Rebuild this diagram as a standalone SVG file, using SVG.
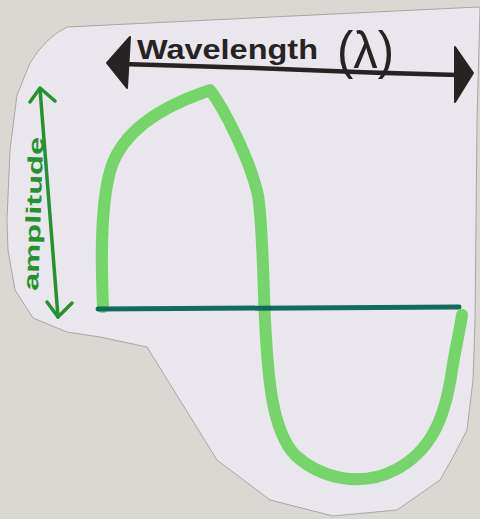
<svg xmlns="http://www.w3.org/2000/svg" width="480" height="519" viewBox="0 0 480 519">
<style>
.ink{stroke:#262322;fill:none;stroke-width:4.5;stroke-linecap:round;stroke-linejoin:round}
.head{fill:#262322;stroke:#262322;stroke-width:2;stroke-linejoin:round}
.amp{stroke:#23922f;fill:none;stroke-width:3.5;stroke-linecap:round;stroke-linejoin:round}
.wave{stroke:#6fd464;fill:none;stroke-width:12;stroke-linecap:round;stroke-linejoin:round;opacity:0.95}
.axis{stroke:#0f6b5c;fill:none;stroke-width:5;stroke-linecap:round}
.lbl{font-family:"Liberation Sans","DejaVu Sans",sans-serif;font-weight:bold}
</style>
<rect width="480" height="519" fill="#dbd8d4"/>
<g id="paper">
<path d="M67,27 L478,7 L480,8 L477,120 L475,323 L473,380 L467,430 L453,457 L440,480 L397,510 L333,516 L270,500 L217,460 L147,347 L100,337 L67,332 L33,318 L15,290 L8,250 L7,220 L10,150 L17,95 L30,63 Q45,38 67,27 Z" fill="#e9e7ed" stroke="#9a9794" stroke-width="0.8"/>
</g>
<g id="wave">
<path class="wave" d="M103,307 C101,260 100,200 112,165 C125,130 160,108 202,93 L210,90 C225,110 250,160 258,195 C263,230 263,280 265,320 C268,380 272,430 295,455 C320,478 360,488 395,470 C430,452 445,420 452,370 C456,345 460,330 462,315"/>
</g>
<g id="axis">
<path class="axis" d="M98,309 L459,307"/>
</g>
<g id="wavelength-arrow">
<path class="ink" d="M122,64 Q200,66 280,69 Q370,73 458,75"/>
<path class="head" d="M107,63 L130,37 L127,88 Z"/>
<path class="head" d="M473,73 L455,47 L455,102 Z"/>
<text class="lbl" x="137" y="59" font-size="27" fill="#262322" textLength="181" lengthAdjust="spacingAndGlyphs">Wavelength</text>
<text x="337" y="68" font-family="'Liberation Sans','DejaVu Sans',sans-serif" font-size="52" fill="#262322" textLength="57" lengthAdjust="spacingAndGlyphs">(λ)</text>
</g>
<g id="amplitude-arrow">
<path class="amp" d="M40,89 L58,317"/>
<path class="amp" d="M30,102 L40,88 L55,101"/>
<path class="amp" d="M47,302 L58,317 L72,303"/>
<text class="lbl" transform="translate(38,291) rotate(-88)" font-size="21" fill="#23922f" textLength="154" lengthAdjust="spacingAndGlyphs">amplitude</text>
</g>
</svg>
